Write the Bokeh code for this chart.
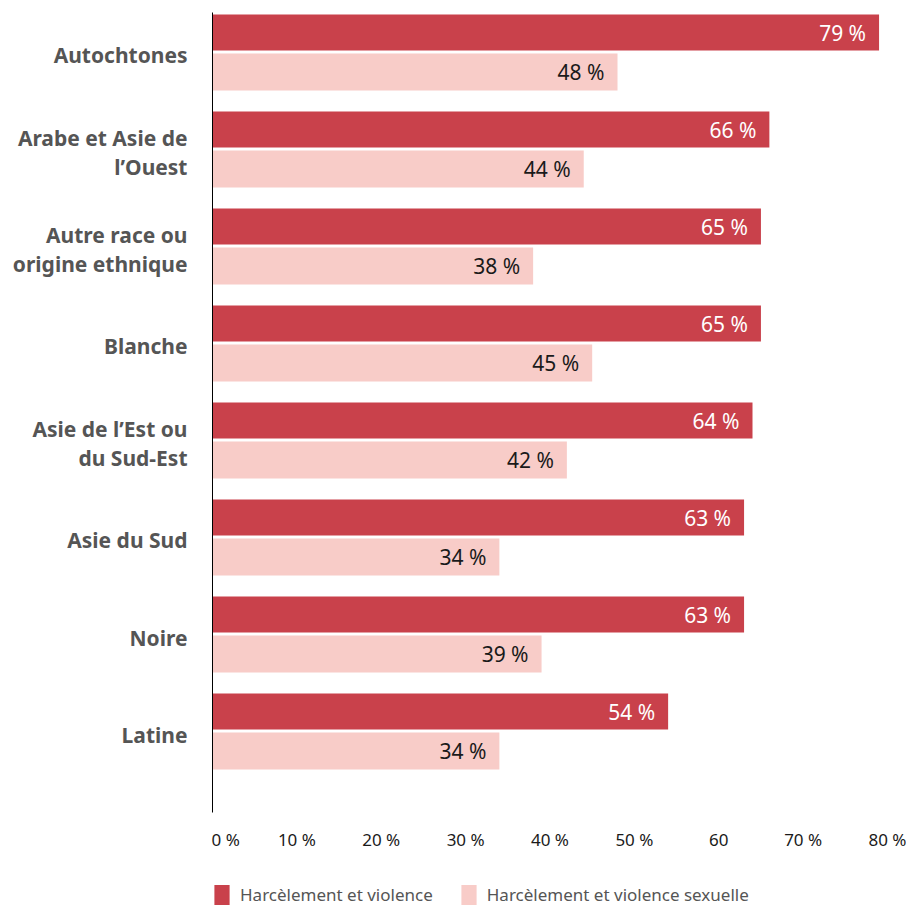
from bokeh.plotting import figure
from bokeh.models import Range1d, FixedTicker, ColumnDataSource, Legend, LegendItem
from bokeh.layouts import column
from bokeh.core.properties import value
from bokeh.embed import file_html
from bokeh.resources import INLINE

categories = ["Autochtones", "Arabe et Asie de\nl’Ouest", "Autre race ou\norigine ethnique",
              "Blanche", "Asie de l’Est ou\ndu Sud-Est", "Asie du Sud", "Noire", "Latine"]
violence = [79, 66, 65, 65, 64, 63, 63, 54]
sexuelle = [48, 44, 38, 45, 42, 34, 39, 34]
series_names = ["Harcèlement et violence", "Harcèlement et violence sexuelle"]
x_ticks = [0, 10, 20, 30, 40, 50, 60, 70, 80]
x_tick_labels = ["\u00a0" * 6 + "0 %", "10 %", "20 %", "30 %", "40 %", "50 %", "60", "70 %", "80 %"]

DARK = "#C9414B"
LIGHT = "#F8CCC8"
FONT = "Noto Sans"

idx = list(range(len(categories)))
src1 = ColumnDataSource(dict(y=[i - 0.206 for i in idx], v=violence,
                             t=[f"{v} %" for v in violence]))
src2 = ColumnDataSource(dict(y=[i + 0.201 for i in idx], v=sexuelle,
                             t=[f"{v} %" for v in sexuelle]))

# y-axis label lines: each category label split into lines, one tick per line
label_ticks = []
label_over = {}
for i, c in enumerate(categories):
    lines = c.split("\n")
    if len(lines) == 1:
        pos = [i + 0.03]
    else:
        pos = [i - 0.12, i + 0.18]
    for ps, ln in zip(pos, lines):
        label_ticks.append(ps)
        label_over[ps] = ln

p = figure(frame_width=675, frame_height=800, output_backend="svg", toolbar_location=None,
           x_range=Range1d(0, 80), y_range=Range1d(7.834, -0.413),
           min_border_left=212, min_border_right=19, min_border_top=12,
           min_border_bottom=70)
p.outline_line_color = None
p.xgrid.grid_line_color = None
p.ygrid.grid_line_color = None

r1 = p.hbar(y="y", left=0, right="v", height=0.371, source=src1, color=DARK, line_color=None)
r2 = p.hbar(y="y", left=0, right="v", height=0.382, source=src2, color=LIGHT, line_color=None)

p.text(x="v", y="y", text="t", source=src1, x_offset=-13, text_align="right",
       text_baseline="middle", text_color="white", text_font_size="21px",
       text_font=value(FONT))
p.text(x="v", y="y", text="t", source=src2, x_offset=-13, text_align="right",
       text_baseline="middle", text_color="#1a1a1a", text_font_size="21px",
       text_font=value(FONT))

xa = p.xaxis[0]
xa.ticker = FixedTicker(ticks=x_ticks)
xa.major_label_overrides = {t: l for t, l in zip(x_ticks, x_tick_labels)}
xa.axis_line_color = None
xa.major_tick_line_color = None
xa.major_tick_out = 0
xa.major_tick_in = 0
xa.minor_tick_line_color = None
xa.minor_tick_out = 0
xa.major_label_text_font = FONT
xa.major_label_text_font_size = "17px"
xa.major_label_text_color = "#1a1a1a"
xa.major_label_standoff = 15

ya = p.yaxis[0]
ya.ticker = FixedTicker(ticks=label_ticks)
ya.major_label_overrides = label_over
ya.axis_line_color = "black"
ya.axis_line_width = 1
ya.major_tick_line_color = None
ya.major_tick_out = 0
ya.major_tick_in = 0
ya.minor_tick_line_color = None
ya.minor_tick_out = 0
ya.major_label_text_font = FONT
ya.major_label_text_font_style = "bold"
ya.major_label_text_font_size = "21px"
ya.major_label_text_color = "#555555"
ya.major_label_standoff = 25

# legend on its own strip below the chart (bars there lie outside its visible range)
lf = figure(width=906, height=25, output_backend="svg", toolbar_location=None,
            x_axis_location=None, y_axis_location=None,
            x_range=Range1d(0, 80), y_range=Range1d(100, 101),
            min_border_left=212, min_border_right=0, min_border_top=0,
            min_border_bottom=0)
lf.outline_line_color = None
lf.xgrid.grid_line_color = None
lf.ygrid.grid_line_color = None
lr1 = lf.hbar(y="y", left=0, right="v", height=0.371, source=src1, color=DARK, line_color=None)
lr2 = lf.hbar(y="y", left=0, right="v", height=0.382, source=src2, color=LIGHT, line_color=None)
legend = Legend(items=[LegendItem(label=series_names[0], renderers=[lr1]),
                       LegendItem(label=series_names[1], renderers=[lr2])],
                orientation="horizontal", location="top_left",
                glyph_width=19, glyph_height=25, label_height=25,
                label_standoff=9, spacing=26, padding=0, margin=0,
                border_line_color=None, background_fill_alpha=0,
                label_text_font=FONT, label_text_font_size="17px",
                label_text_color="#555555")
lf.add_layout(legend, "center")

layout = column(p, lf, spacing=0)
open("out.html", "w").write(file_html(layout, INLINE))
